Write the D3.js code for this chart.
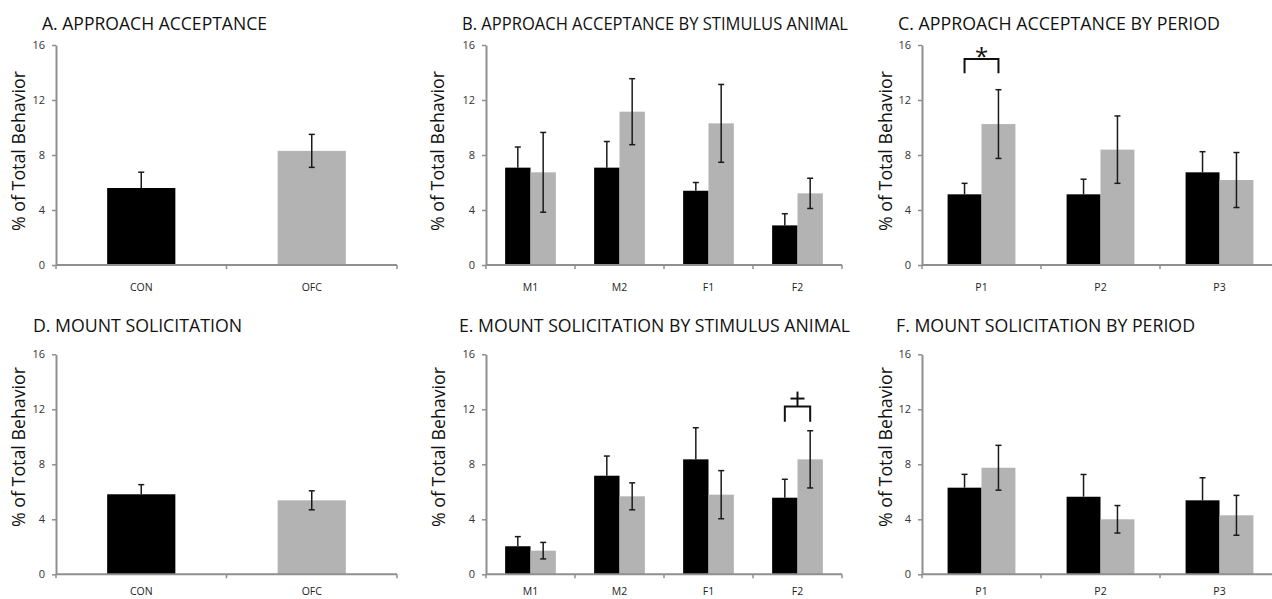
<!DOCTYPE html>
<html>
<head>
<meta charset="utf-8">
<script src="https://cdn.jsdelivr.net/npm/d3@7"></script>
<style>
  body { margin: 0; background: #fff; }
  svg { display: block; }
</style>
</head>
<body>
<div id="chart"></div>
<script>
// ---- data ----
const titles = [
  "A. APPROACH ACCEPTANCE",
  "B. APPROACH ACCEPTANCE BY STIMULUS ANIMAL",
  "C. APPROACH ACCEPTANCE BY PERIOD",
  "D. MOUNT SOLICITATION",
  "E. MOUNT SOLICITATION BY STIMULUS ANIMAL",
  "F. MOUNT SOLICITATION BY PERIOD"
];
const groups = ["CON", "OFC"];
const animals = ["M1", "M2", "F1", "F2"];
const periods = ["P1", "P2", "P3"];
const yTicks = [0, 4, 8, 12, 16];
const yLabel = "% of Total Behavior";

// A
const accMean = [5.6, 8.3];
const accErr = [1.15, 1.2];
// B
const accAnimalCon = [7.08, 7.08, 5.4, 2.88];
const accAnimalConErr = [1.5, 1.9, 0.6, 0.85];
const accAnimalOfc = [6.74, 11.15, 10.3, 5.21];
const accAnimalOfcErr = [2.9, 2.4, 2.83, 1.1];
// C
const accPeriodCon = [5.14, 5.14, 6.74];
const accPeriodConErr = [0.8, 1.1, 1.5];
const accPeriodOfc = [10.25, 8.39, 6.18];
const accPeriodOfcErr = [2.5, 2.45, 2.0];
// D
const solMean = [5.82, 5.38];
const solErr = [0.7, 0.69];
// E
const solAnimalCon = [2.04, 7.17, 8.36, 5.57];
const solAnimalConErr = [0.7, 1.43, 2.3, 1.34];
const solAnimalOfc = [1.72, 5.67, 5.79, 8.36];
const solAnimalOfcErr = [0.6, 0.98, 1.75, 2.08];
// F
const solPeriodCon = [6.3, 5.64, 5.38];
const solPeriodConErr = [0.97, 1.62, 1.64];
const solPeriodOfc = [7.75, 4.0, 4.29];
const solPeriodOfcErr = [1.63, 1.0, 1.45];

// significance marks: panel, category, bracket top / bottom (in % units), symbol
const sigPanel = [2, 4];
const sigCat = ["P1", "F2"];
const sigTop = [14.98, 12.2];
const sigBottom = [13.94, 11.1];
const sigSymbol = ["*", "+"];

// ---- layout ----
const W = 1272, H = 599;
const rows = [
  { top: 45, bottom: 265, titleY: 30, labelY: 151, tickY: 25.5 },
  { top: 354.3, bottom: 574.3, titleY: 331.5, labelY: 447, tickY: 21 }
];
const layout = [
  { x0: 56, x1: 397, row: 0, titleX: 42, titleW: 225, labelX: 18 },
  { x0: 486, x1: 842, row: 0, titleX: 462, titleW: 386, labelX: 437 },
  { x0: 922, x1: 1279, row: 0, titleX: 898, titleW: 322, labelX: 885 },
  { x0: 56, x1: 397, row: 1, titleX: 33, titleW: 209, labelX: 18 },
  { x0: 486, x1: 842, row: 1, titleX: 459, titleW: 391, labelX: 438 },
  { x0: 922, x1: 1279, row: 1, titleX: 896, titleW: 299, labelX: 885 }
];

const BLACK = "#000000", GREY = "#b3b3b3", AXIS = "#8f8f8f";
const FONT = "'Open Sans', 'DejaVu Sans', sans-serif";

// build the per-panel series (each series = values, errors, colour)
const panels = [
  { cats: groups, series: [{ v: accMean, e: accErr, single: true }] },
  { cats: animals, series: [{ v: accAnimalCon, e: accAnimalConErr, c: BLACK }, { v: accAnimalOfc, e: accAnimalOfcErr, c: GREY }] },
  { cats: periods, series: [{ v: accPeriodCon, e: accPeriodConErr, c: BLACK }, { v: accPeriodOfc, e: accPeriodOfcErr, c: GREY }] },
  { cats: groups, series: [{ v: solMean, e: solErr, single: true }] },
  { cats: animals, series: [{ v: solAnimalCon, e: solAnimalConErr, c: BLACK }, { v: solAnimalOfc, e: solAnimalOfcErr, c: GREY }] },
  { cats: periods, series: [{ v: solPeriodCon, e: solPeriodConErr, c: BLACK }, { v: solPeriodOfc, e: solPeriodOfcErr, c: GREY }] }
];

const svg = d3.select("#chart").append("svg")
  .attr("width", W)
  .attr("height", H)
  .style("font-family", FONT);

panels.forEach((p, i) => {
  const L = layout[i];
  const R = rows[L.row];
  const g = svg.append("g");

  const x = d3.scaleBand().domain(p.cats).range([L.x0, L.x1]).paddingInner(0).paddingOuter(0);
  const y = d3.scaleLinear().domain([0, 16]).range([R.bottom, R.top]);

  // bars + error bars
  let bars = [];
  if (p.series[0].single) {
    const s = p.series[0];
    const bw = x.bandwidth() * 0.4;
    p.cats.forEach((c, k) => bars.push({
      cx: x(c) + x.bandwidth() / 2, w: bw, v: s.v[k], e: s.e[k], c: k === 0 ? BLACK : GREY
    }));
  } else {
    const bw = x.bandwidth() * 0.285;
    p.cats.forEach((c, k) => {
      const mid = x(c) + x.bandwidth() / 2;
      p.series.forEach((s, j) => bars.push({
        cx: mid + (j - 0.5) * bw, w: bw, v: s.v[k], e: s.e[k], c: s.c
      }));
    });
  }

  g.selectAll("rect.bar").data(bars).enter().append("rect")
    .attr("class", "bar")
    .attr("x", d => d.cx - d.w / 2)
    .attr("y", d => y(d.v))
    .attr("width", d => d.w)
    .attr("height", d => y(0) - y(d.v))
    .attr("fill", d => d.c);

  // black bars hide the lower half of their error bar
  const lo = d => d.c === BLACK ? d.v : d.v - d.e;
  const eb = g.selectAll("g.err").data(bars).enter().append("g").attr("class", "err")
    .attr("stroke", "#1a1a1a").attr("stroke-width", 1.5);
  eb.append("line")
    .attr("x1", d => d.cx).attr("x2", d => d.cx)
    .attr("y1", d => y(lo(d))).attr("y2", d => y(d.v + d.e));
  eb.append("line")
    .attr("x1", d => d.cx - 3).attr("x2", d => d.cx + 3)
    .attr("y1", d => y(d.v + d.e)).attr("y2", d => y(d.v + d.e));
  eb.filter(d => d.c !== BLACK).append("line")
    .attr("x1", d => d.cx - 3).attr("x2", d => d.cx + 3)
    .attr("y1", d => y(d.v - d.e)).attr("y2", d => y(d.v - d.e));

  // y axis
  const ya = g.append("g")
    .attr("transform", `translate(${L.x0},0)`)
    .call(d3.axisLeft(y).tickValues(yTicks).tickSize(4).tickSizeOuter(0).tickPadding(7));
  ya.select(".domain").attr("stroke", AXIS).attr("stroke-width", 2);
  ya.selectAll(".tick line").attr("stroke", AXIS).attr("stroke-width", 1.5);
  ya.selectAll(".tick text").attr("fill", "#333").attr("font-size", 11).attr("font-family", FONT);

  // x axis: line with ticks at category boundaries, labels at centres
  const xa = g.append("g").attr("transform", `translate(0,${R.bottom})`);
  xa.append("line").attr("x1", L.x0).attr("x2", L.x1).attr("stroke", AXIS).attr("stroke-width", 2);
  const bounds = p.cats.map(c => x(c)).concat([x(p.cats[p.cats.length - 1]) + x.bandwidth()]);
  xa.selectAll("line.bt").data(bounds).enter().append("line")
    .attr("class", "bt")
    .attr("x1", d => d).attr("x2", d => d)
    .attr("y1", 0).attr("y2", 4)
    .attr("stroke", AXIS).attr("stroke-width", 1.5);
  xa.selectAll("text").data(p.cats).enter().append("text")
    .attr("x", d => x(d) + x.bandwidth() / 2)
    .attr("y", R.tickY)
    .attr("text-anchor", "middle")
    .attr("font-size", 10.5)
    .attr("fill", "#222")
    .text(d => d);

  // titles and y label
  g.append("text")
    .attr("x", L.titleX).attr("y", R.titleY)
    .attr("font-size", 18).attr("fill", "#111")
    .attr("textLength", L.titleW).attr("lengthAdjust", "spacingAndGlyphs")
    .text(titles[i]);
  g.append("text")
    .attr("transform", `translate(${L.labelX + 7},${R.labelY}) rotate(-90)`)
    .attr("text-anchor", "middle")
    .attr("font-size", 19).attr("fill", "#111")
    .attr("textLength", 160).attr("lengthAdjust", "spacingAndGlyphs")
    .text(yLabel);

  // significance bracket
  sigPanel.forEach((sp, k) => {
    if (sp !== i) return;
    const c = sigCat[k];
    const bw = x.bandwidth() * 0.285;
    const mid = x(c) + x.bandwidth() / 2;
    const xl = mid - bw / 2, xr = mid + bw / 2;
    const yt = y(sigTop[k]), yb = y(sigBottom[k]);
    g.append("path")
      .attr("d", `M${xl},${yb}V${yt}H${xr}V${yb}`)
      .attr("fill", "none").attr("stroke", "#111").attr("stroke-width", 2);
    if (sigSymbol[k] === "*") {
      g.append("text")
        .attr("x", mid).attr("y", yt + 6)
        .attr("text-anchor", "middle")
        .attr("font-size", 24).attr("fill", "#111")
        .text("*");
    } else {
      g.append("line").attr("x1", mid).attr("x2", mid).attr("y1", yt - 15).attr("y2", yt)
        .attr("stroke", "#111").attr("stroke-width", 2);
      g.append("line").attr("x1", mid - 7).attr("x2", mid + 7).attr("y1", yt - 8).attr("y2", yt - 8)
        .attr("stroke", "#111").attr("stroke-width", 2);
    }
  });
});
</script>
</body>
</html>
